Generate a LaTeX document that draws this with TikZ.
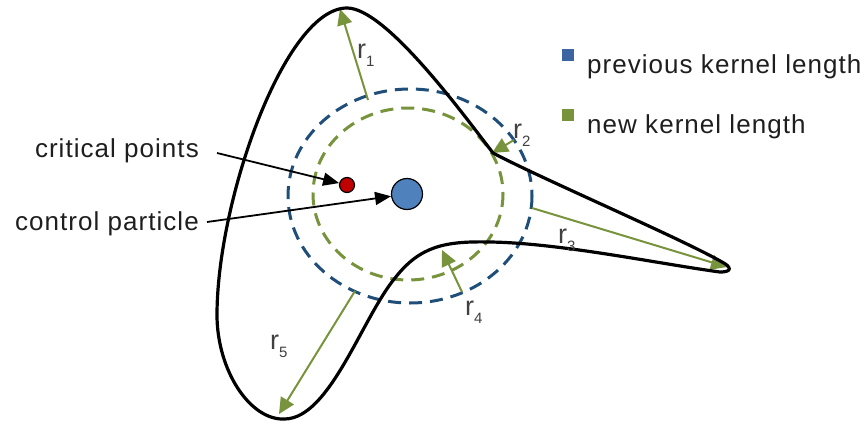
\documentclass[tikz,border=0pt]{standalone}
\usepackage{fontspec}
\setmainfont[LetterSpace=4]{Liberation Sans}
\usetikzlibrary{arrows.meta}
\definecolor{kblue}{HTML}{1F4E79}
\definecolor{kgreen}{HTML}{77933C}
\definecolor{dotblue}{HTML}{4F81BD}
\definecolor{dotred}{HTML}{C00000}
\definecolor{legblue}{HTML}{3C64A0}
\definecolor{txt}{HTML}{1E1E1E}
\newcommand{\rlab}[1]{r\raisebox{-8pt}{\fontsize{15}{15}\selectfont #1}}
\tikzset{
  prevc/.style={draw=kblue, line width=3pt, dash pattern=on 13pt off 8pt},
  newc/.style={draw=kgreen, line width=3pt, dash pattern=on 13pt off 8pt},
  garrow/.style={draw=kgreen, line width=2pt, -{Triangle[length=16pt,width=15pt]}},
  barrow/.style={draw=black, line width=1.8pt, -{Triangle[length=16pt,width=13pt]}},
  lbl/.style={font=\fontsize{26}{30}\selectfont, text=txt, inner sep=0pt},
  rl/.style={font=\fontsize{27}{30}\selectfont, text=txt!85, inner sep=0pt, anchor=base west},
  legsq/.style={minimum size=12pt, inner sep=0pt},
  outline/.style={draw=black, line width=3.2pt, line join=round}
}
\begin{document}
\begin{tikzpicture}[x=1pt,y=-1pt]
\useasboundingbox (0,0) rectangle (867,423);
% kernel circles
\draw[prevc] (410,196) ellipse [x radius=122, y radius=107];
\draw[newc] (408,194) ellipse [x radius=95, y radius=86];
% particles
\node[circle, draw=black, line width=1.2pt, fill=dotred, minimum size=15pt, inner sep=0pt] (cp) at (347,185) {};
\node[circle, draw=black, line width=1.2pt, fill=dotblue, minimum size=31pt, inner sep=0pt] (pa) at (407,194) {};
% green radii
\coordinate (r1s) at (368,100); \coordinate (r1e) at (340,9);
\coordinate (r2s) at (514,140); \coordinate (r2e) at (492,153);
\coordinate (r3s) at (532,208); \coordinate (r3e) at (727,267);
\coordinate (r4s) at (462,292); \coordinate (r4e) at (442,250);
\coordinate (r5s) at (355,291); \coordinate (r5e) at (279,414);
\draw[garrow] (r1s) -- (r1e);
\draw[garrow] (r2s) -- (r2e);
\draw[garrow] (r3s) -- (r3e);
\draw[garrow] (r4s) -- (r4e);
\draw[garrow] (r5s) -- (r5e);
% outline
\draw[outline] (347,8)
  .. controls (385,8) and (460,110) .. (493,153)
  .. controls (540,178) and (680,238) .. (722,262)
  .. controls (730,266) and (734,272) .. (720,272)
  .. controls (660,264) and (560,243) .. (490,242)
  .. controls (445,241) and (420,246) .. (395,278)
  .. controls (362,318) and (330,418) .. (285,419)
  .. controls (250,421) and (217,370) .. (217,315)
  .. controls (217,200) and (285,8) .. (347,8) -- cycle;
% labels
\node[lbl, anchor=base east] (tcrit) at (199,157) {critical points};
\node[lbl, anchor=base east] (tctrl) at (199,230) {control particle};
\coordinate (c1s) at (217,153);
\coordinate (c2s) at (207,222);
\draw[barrow] (c1s) -- (cp);
\draw[barrow] (c2s) -- (pa);
% r labels
\node[rl] (l1) at (357,58) {\rlab{1}};
\node[rl] (l2) at (513,138) {\rlab{2}};
\node[rl] (l3) at (558,243) {\rlab{3}};
\node[rl] (l4) at (465,315) {\rlab{4}};
\node[rl] (l5) at (270,349) {\rlab{5}};
% legend
\node[legsq, fill=legblue] (sq1) at (568,55) {};
\node[legsq, fill=kgreen] (sq2) at (568,115) {};
\node[lbl, anchor=base west] (lg1) at (587,73) {previous kernel length};
\node[lbl, anchor=base west] (lg2) at (587,133) {new kernel length};
\end{tikzpicture}
\end{document}
